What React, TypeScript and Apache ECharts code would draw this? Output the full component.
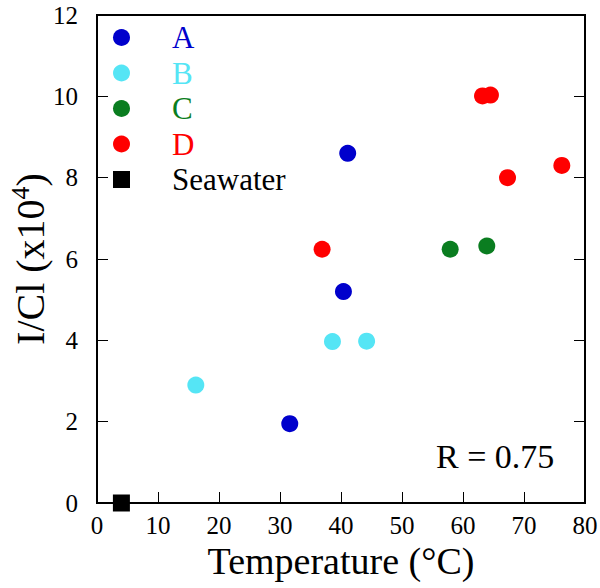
import React, { useEffect, useRef } from "react";
import * as echarts from "echarts";

const groupNames = ["A", "B", "C", "D"];
const groupColors = ["#0000cc", "#55e5f5", "#0a7d20", "#ff0000"];
const temperatureA = [41.1, 40.4, 31.6];
const iclA = [8.6, 5.2, 1.95];
const temperatureB = [16.2, 38.6, 44.2];
const iclB = [2.9, 3.97, 3.98];
const temperatureC = [57.9, 63.9];
const iclC = [6.24, 6.32];
const temperatureD = [36.9, 63.2, 64.5, 67.3, 76.2];
const iclD = [6.24, 10.01, 10.03, 8.0, 8.3];
const seawaterTemperature = [4];
const seawaterIcl = [0];
const xTicks = [0, 80, 10];
const yTicks = [0, 12, 2];

const FONT = "'Liberation Serif', 'Times New Roman', serif";

function pairs(xs: number[], ys: number[]) {
  return xs.map((x, i) => [x, ys[i]]);
}

export default function App() {
  const ref = useRef<HTMLDivElement>(null);
  useEffect(() => {
    if (!ref.current) return;
    const chart = echarts.init(ref.current, null, { renderer: "svg" });
    const groupData = [
      pairs(temperatureA, iclA),
      pairs(temperatureB, iclB),
      pairs(temperatureC, iclC),
      pairs(temperatureD, iclD),
    ];
    const series: any[] = groupNames.map((name, i) => ({
      name,
      type: "scatter",
      symbol: "circle",
      symbolSize: 17,
      itemStyle: { color: groupColors[i], opacity: 1 },
      data: groupData[i],
      z: 5,
    }));
    series.push({
      name: "Seawater",
      type: "scatter",
      symbol: "rect",
      symbolSize: 17,
      clip: false,
      itemStyle: { color: "#000", opacity: 1 },
      data: pairs(seawaterTemperature, seawaterIcl),
      z: 10,
    });
    const axisLine = { show: true, lineStyle: { color: "#000", width: 2 } };
    chart.setOption({
      animation: false,
      backgroundColor: "#fff",
      grid: {
        left: 97,
        right: 15,
        top: 15,
        bottom: 85,
        containLabel: false,
        outerBoundsMode: "none",
        show: true,
        borderColor: "#000",
        borderWidth: 2,
        backgroundColor: "transparent",
      },
      legend: {
        orient: "vertical",
        left: 113,
        top: 22,
        padding: 0,
        itemWidth: 17,
        itemHeight: 17,
        itemGap: 4.5,
        textStyle: {
          fontFamily: FONT,
          fontSize: 31,
          padding: [0, 0, 0, 37],
        },
        data: [
          ...groupNames.map((n, i) => ({
            name: n,
            icon: "circle",
            itemStyle: { color: groupColors[i], opacity: 1 },
            textStyle: { color: groupColors[i] },
          })),
          { name: "Seawater", icon: "rect", itemStyle: { color: "#000", opacity: 1 }, textStyle: { color: "#000" } },
        ],
      },
      xAxis: [
        {
          type: "value",
          min: xTicks[0],
          max: xTicks[1],
          interval: xTicks[2],
          axisLine,
          axisTick: { show: true, inside: true, length: 11, lineStyle: { color: "#000", width: 1 } },
          splitLine: { show: false },
          axisLabel: { color: "#000", fontFamily: FONT, fontSize: 25, margin: 10 },
          name: "Temperature (°C)",
          nameLocation: "middle",
          nameGap: 39,
          nameMoveOverlap: false,
          nameTextStyle: { color: "#000", fontFamily: FONT, fontSize: 38 },
        },
      ],
      yAxis: [
        {
          type: "value",
          min: yTicks[0],
          max: yTicks[1],
          interval: yTicks[2],
          axisLine,
          axisTick: { show: true, inside: true, length: 11, lineStyle: { color: "#000", width: 1 } },
          splitLine: { show: false },
          axisLabel: { color: "#000", fontFamily: FONT, fontSize: 25, margin: 19 },
          name: "{t|I/Cl (x10}{s|4}{t|)}",
          nameLocation: "middle",
          nameRotate: 90,
          nameGap: 44,
          nameMoveOverlap: false,
          nameTextStyle: {
            color: "#000",
            fontFamily: FONT,
            rich: {
              t: { fontFamily: FONT, fontSize: 40, color: "#000", lineHeight: 46 },
              s: { fontFamily: FONT, fontSize: 26, color: "#000", verticalAlign: "top", lineHeight: 25 },
            },
          },
        },
        {
          type: "value",
          position: "right",
          min: yTicks[0],
          max: yTicks[1],
          interval: yTicks[2],
          axisLine,
          axisTick: { show: true, inside: true, length: 11, lineStyle: { color: "#000", width: 1 } },
          splitLine: { show: false },
          axisLabel: { show: false },
        },
      ],
      graphic: [
        {
          type: "text",
          left: 436,
          top: 439,
          style: {
            text: "R = 0.75",
            fontFamily: FONT,
            fontSize: 34,
            fill: "#000",
          },
        },
      ],
      series,
    });
    return () => chart.dispose();
  }, []);
  return (
    <div
      ref={ref}
      style={{ position: "absolute", left: 0, top: 0, width: 600, height: 588 }}
    />
  );
}
